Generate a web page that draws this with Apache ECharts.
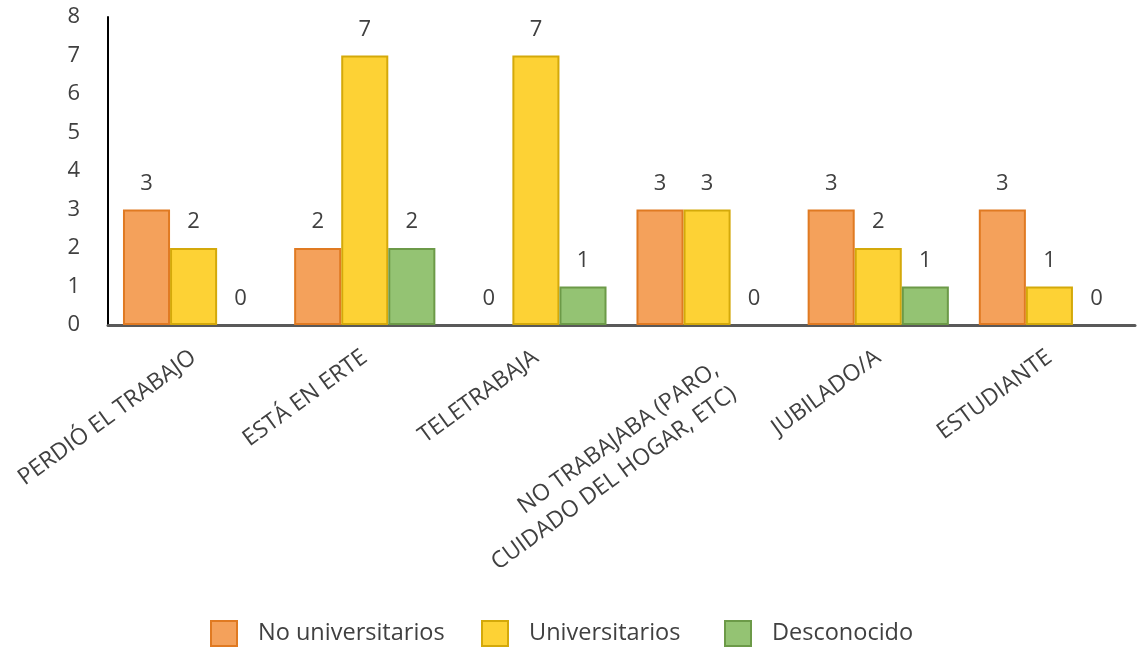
<!DOCTYPE html>
<html><head><meta charset="utf-8">
<script src="https://cdn.jsdelivr.net/npm/echarts@6/dist/echarts.min.js"></script>
<style>html,body{margin:0;padding:0;background:#fff}#c{width:1137px;height:648px}</style>
</head><body><div id="c"></div>
<script>
const categories = ['PERDIÓ EL TRABAJO','ESTÁ EN ERTE','TELETRABAJA','NO TRABAJABA (PARO,\nCUIDADO DEL HOGAR, ETC)','JUBILADO/A','ESTUDIANTE'];
const noUniversitarios = [3,2,0,3,3,3];
const universitarios = [2,7,7,3,2,1];
const desconocido = [0,2,1,0,1,0];
const seriesNames = ['No universitarios','Universitarios','Desconocido'];
const FONT = 'Open Sans';
function s(name, data, fill, border){
  return {name, type:'bar', barGap:'0%', barCategoryGap:'17.5%',
    data: data.map(v => v === 0 ? {value:v, itemStyle:{borderWidth:0}} : v),
    itemStyle:{color:fill, borderColor:border, borderWidth:2},
    label:{show:true, position:'top', distance:15, color:'#404040', fontSize:22, fontFamily:FONT}};
}
function lg(name, left){
  return {left, top:615, icon:'rect', itemWidth:26, itemHeight:25, itemGap:0,
    textStyle:{fontSize:23.5, color:'#404040', fontFamily:FONT, padding:[0,0,0,16]},
    data:[name]};
}
const chart = echarts.init(document.getElementById('c'));
chart.setOption({
  animation:false,
  textStyle:{fontFamily:FONT},
  grid:{left:108, right:2, top:17, bottom:323, containLabel:false},
  legend:[lg(seriesNames[0],205), lg(seriesNames[1],476), lg(seriesNames[2],719)],
  xAxis:{type:'category',
    data: categories.map(c => c.indexOf('\n') >= 0 ? {value:c, textStyle:{verticalAlign:'top'}} : c),
    axisLine:{lineStyle:{color:'#595959', width:3}}, axisTick:{show:false},
    axisLabel:{rotate:36, color:'#404040', fontSize:23, fontFamily:FONT, margin:30, interval:0, lineHeight:30}},
  yAxis:{type:'value', min:0, max:8, interval:1,
    axisLine:{show:true, lineStyle:{color:'#000', width:2}}, axisTick:{show:false},
    splitLine:{show:false},
    axisLabel:{color:'#404040', fontSize:22, fontFamily:FONT, margin:28}},
  series:[
    s(seriesNames[0], noUniversitarios, '#F4A15B', '#E07A22'),
    s(seriesNames[1], universitarios, '#FDD235', '#D4A90A'),
    s(seriesNames[2], desconocido, '#94C373', '#6C9A48')
  ]
});
</script></body></html>
